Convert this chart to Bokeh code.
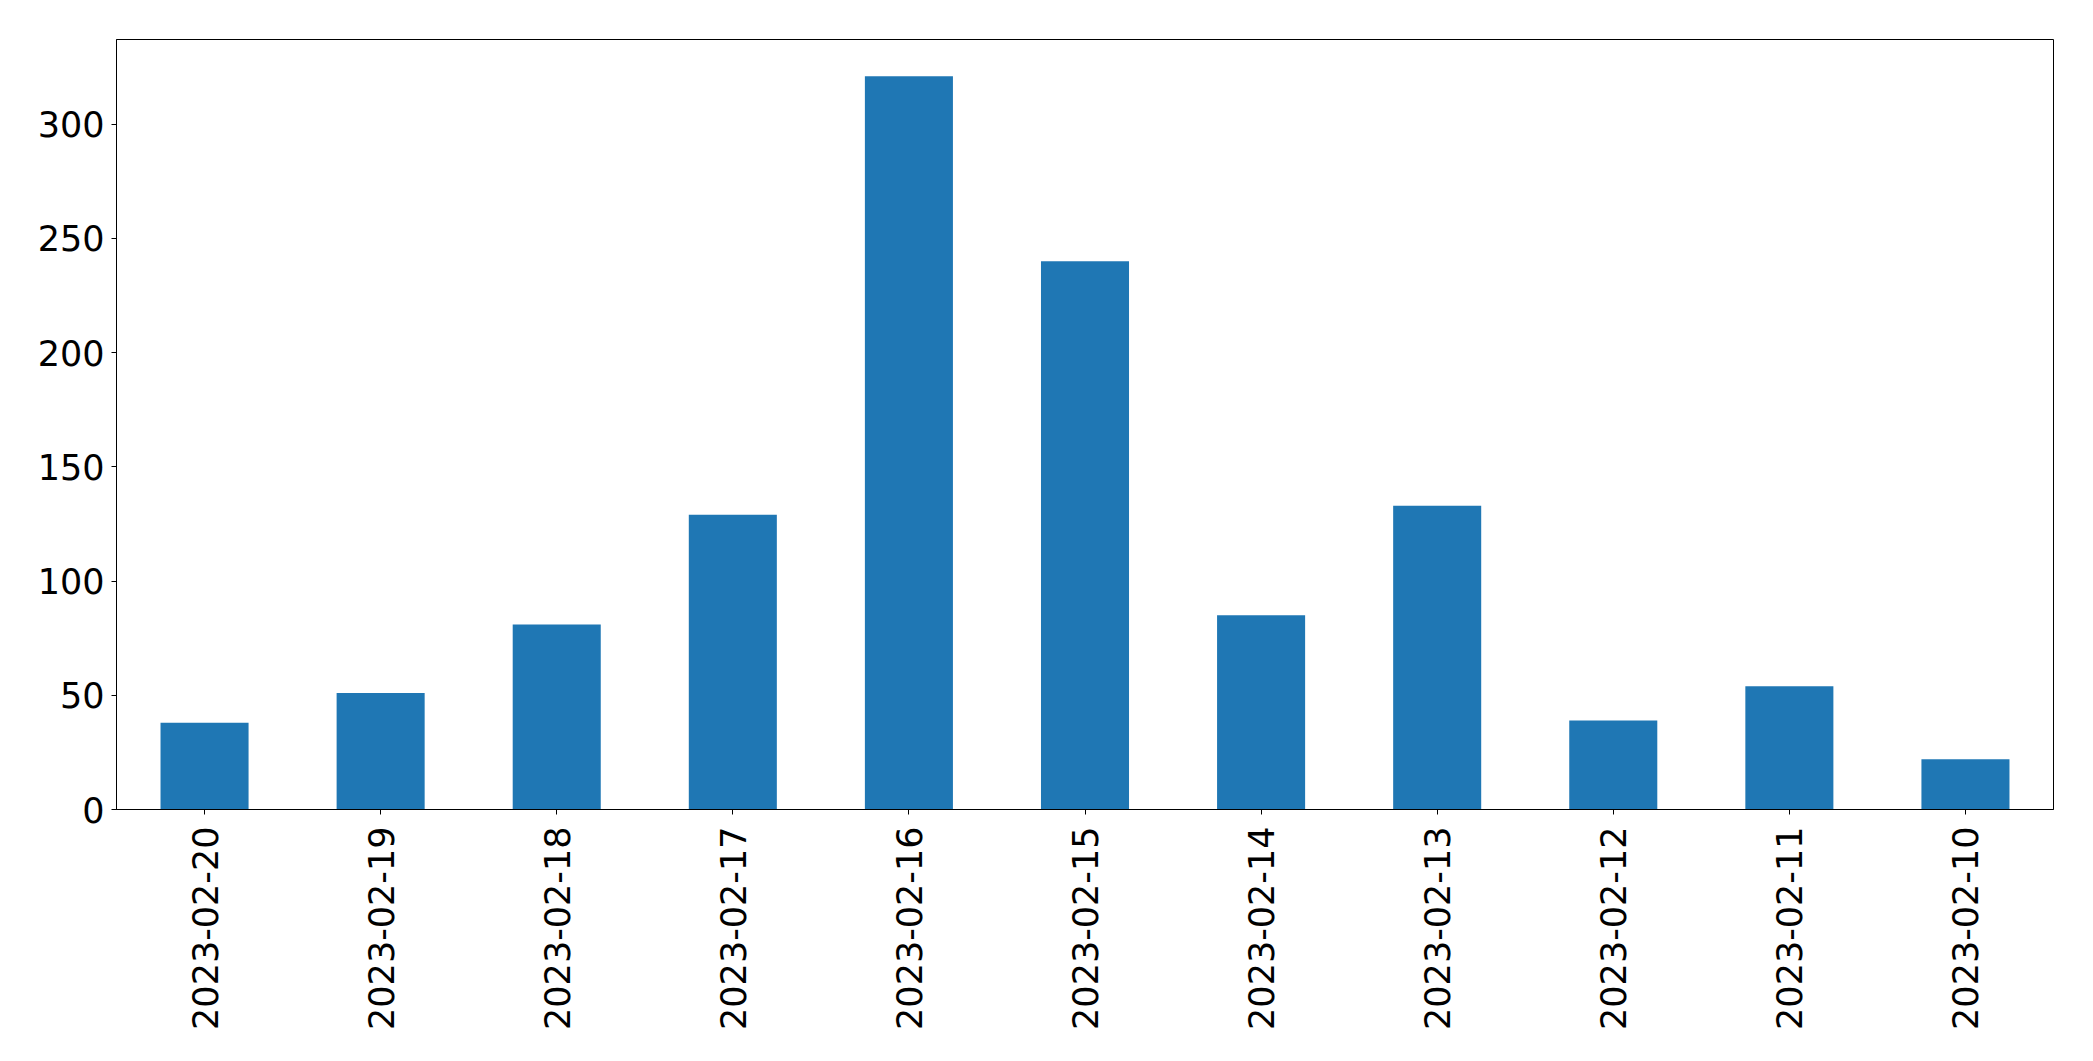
import math
from bokeh.plotting import figure
from bokeh.models import ColumnDataSource, FactorRange, Range1d, FixedTicker
from bokeh.embed import file_html
from bokeh.resources import INLINE

dates = ["2023-02-20", "2023-02-19", "2023-02-18", "2023-02-17", "2023-02-16",
         "2023-02-15", "2023-02-14", "2023-02-13", "2023-02-12", "2023-02-11",
         "2023-02-10"]
counts = [38, 51, 81, 129, 321, 240, 85, 133, 39, 54, 22]
y_ticks = [0, 50, 100, 150, 200, 250, 300]

source = ColumnDataSource(data=dict(dates=dates, counts=counts))

p = figure(
    x_range=FactorRange(*dates, range_padding=0),
    y_range=Range1d(0, max(counts) * 1.05),
    frame_width=1937, frame_height=770,
    min_border_left=116, min_border_top=39, min_border_right=20, min_border_bottom=10,
    output_backend="svg", toolbar_location=None,
)

p.vbar(x="dates", top="counts", width=0.5, source=source,
       fill_color="#1f77b4", line_color=None)

p.xgrid.grid_line_color = None
p.ygrid.grid_line_color = None
p.outline_line_color = "black"
p.outline_line_width = 1
p.outline_line_alpha = 1

for ax in (p.xaxis[0], p.yaxis[0]):
    ax.axis_line_color = "black"
    ax.major_tick_line_color = "black"
    ax.major_tick_out = 5
    ax.major_tick_in = 0
    ax.minor_tick_line_color = None
    ax.major_label_text_font = "DejaVu Sans"
    ax.major_label_text_font_size = "35px"
    ax.major_label_text_color = "black"

p.yaxis.ticker = FixedTicker(ticks=y_ticks)
p.yaxis.major_label_standoff = 7
p.xaxis.major_label_orientation = math.pi / 2
p.xaxis.major_label_standoff = 12

open("out.html", "w").write(file_html(p, INLINE))
